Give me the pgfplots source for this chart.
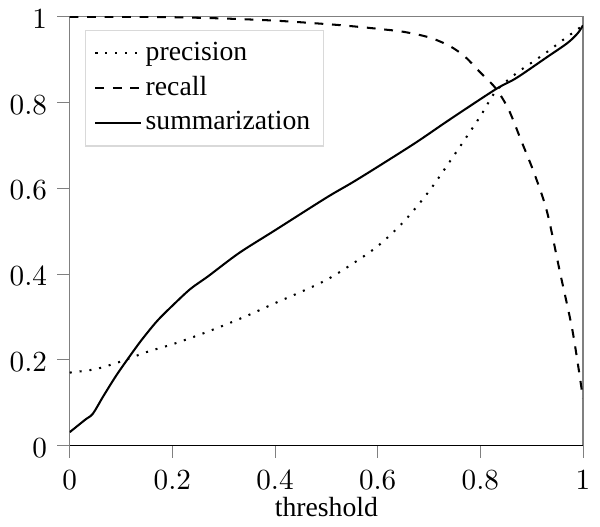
\documentclass[border=0pt]{standalone}
\usepackage{fontspec}
\setmainfont{Liberation Serif}
\usepackage{pgfplots}
\pgfplotsset{compat=1.18}

\begin{document}
\begin{tikzpicture}
\begin{axis}[
  scale only axis,
  width=176pt, height=147pt,
  xmin=0, xmax=1, ymin=0, ymax=1,
  xtick={0,0.2,0.4,0.6,0.8,1},
  ytick={0,0.2,0.4,0.6,0.8,1},
  tick align=outside,
  tick pos=left,
  major tick style={gray},
  axis line style={gray},
  yticklabel style={yshift=-0.8pt},
  xticklabel style={yshift=-1pt},
  xlabel={threshold},
  xlabel style={font=\fontsize{9.5}{11}\selectfont, yshift=4.5pt},
  legend cell align=left,
  legend style={at={(0.03,0.97)}, anchor=north west, draw=gray!30,
                font=\fontsize{9.5}{11}\selectfont,
                nodes={inner xsep=1.5pt}},
  legend image post style={xscale=0.9},
]
% precision
\addplot[black, line width=0.7pt, smooth, dash pattern=on \pgflinewidth off 2.7pt] coordinates {
  (0,0.170) (0.05,0.178) (0.1,0.196) (0.15,0.218) (0.2,0.236) (0.25,0.257)
  (0.3,0.280) (0.35,0.305) (0.4,0.332) (0.45,0.358) (0.5,0.386) (0.55,0.423)
  (0.6,0.465) (0.65,0.521) (0.7,0.593) (0.75,0.679) (0.8,0.768) (0.83,0.826)
  (0.87,0.868) (0.9,0.893) (0.93,0.918) (0.96,0.945) (1.0,0.980)
};
\addlegendentry{precision}
% recall
\addplot[black, line width=0.7pt, smooth, dashed] coordinates {
  (0,1.0) (0.1,1.0) (0.2,0.999) (0.3,0.996) (0.4,0.991) (0.5,0.983)
  (0.55,0.978) (0.6,0.972) (0.65,0.965) (0.7,0.952) (0.74,0.932)
  (0.77,0.907) (0.8,0.870) (0.83,0.833) (0.855,0.784) (0.88,0.710)
  (0.905,0.635) (0.93,0.545) (0.955,0.405) (0.98,0.265) (1.0,0.110)
};
\addlegendentry{recall}
% summarization
\addplot[black, line width=0.7pt, smooth] coordinates {
  (0,0.031) (0.03,0.060) (0.045,0.074) (0.065,0.114) (0.09,0.162)
  (0.115,0.205) (0.14,0.246) (0.17,0.290) (0.2,0.326) (0.235,0.365)
  (0.27,0.395) (0.33,0.449) (0.4,0.502) (0.5,0.578) (0.55,0.613)
  (0.6,0.650) (0.675,0.707) (0.74,0.760) (0.83,0.831) (0.87,0.857)
  (0.93,0.906) (0.97,0.939) (0.99,0.962) (1.0,0.980)
};
\addlegendentry{summarization}
% x-axis base line
\draw[black, semithick] (rel axis cs:0,0) -- (rel axis cs:1,0);
\end{axis}
\end{tikzpicture}
\end{document}
